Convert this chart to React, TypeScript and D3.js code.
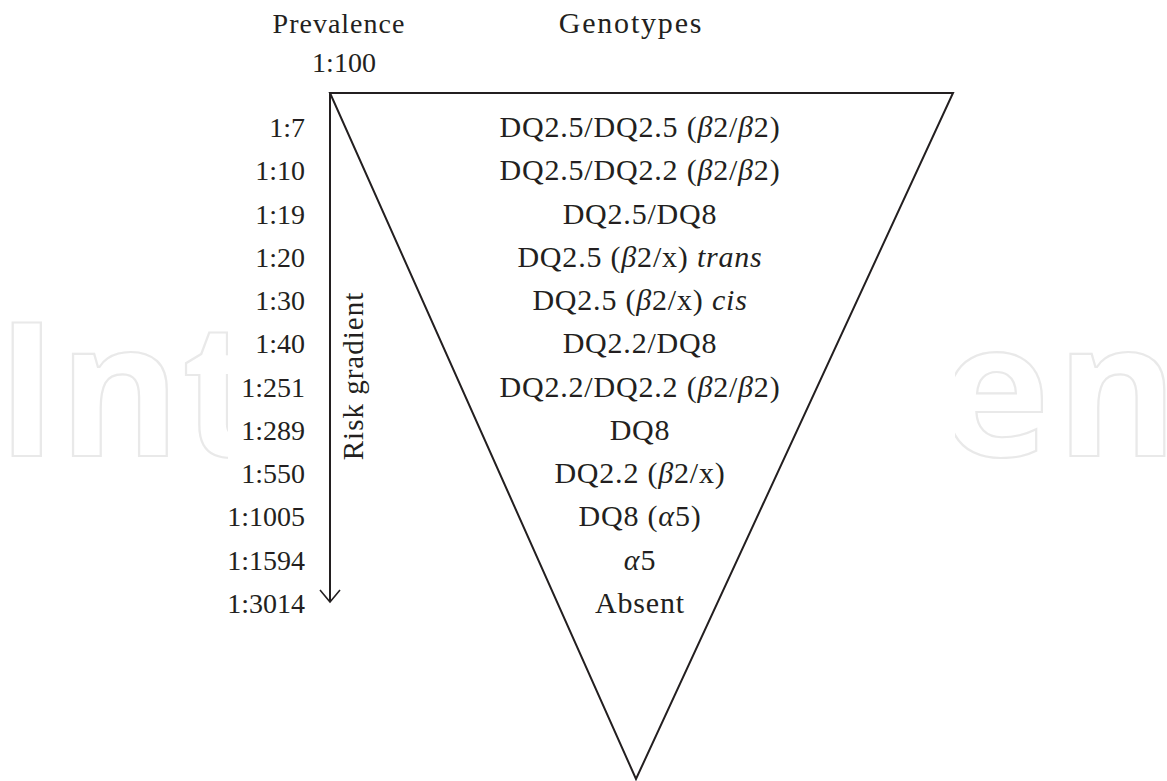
import React from "react";
import * as d3 from "d3";

const prevalence = ["1:7", "1:10", "1:19", "1:20", "1:30", "1:40", "1:251", "1:289", "1:550", "1:1005", "1:1594", "1:3014"];

type Seg = { t: string; i?: boolean };
const genotypes: Seg[][] = [
  [{ t: "DQ2.5/DQ2.5 (" }, { t: "β", i: true }, { t: "2/" }, { t: "β", i: true }, { t: "2)" }],
  [{ t: "DQ2.5/DQ2.2 (" }, { t: "β", i: true }, { t: "2/" }, { t: "β", i: true }, { t: "2)" }],
  [{ t: "DQ2.5/DQ8" }],
  [{ t: "DQ2.5 (" }, { t: "β", i: true }, { t: "2/x) " }, { t: "trans", i: true }],
  [{ t: "DQ2.5 (" }, { t: "β", i: true }, { t: "2/x) " }, { t: "cis", i: true }],
  [{ t: "DQ2.2/DQ8" }],
  [{ t: "DQ2.2/DQ2.2 (" }, { t: "β", i: true }, { t: "2/" }, { t: "β", i: true }, { t: "2)" }],
  [{ t: "DQ8" }],
  [{ t: "DQ2.2 (" }, { t: "β", i: true }, { t: "2/x)" }],
  [{ t: "DQ8 (" }, { t: "α", i: true }, { t: "5)" }],
  [{ t: "α", i: true }, { t: "5" }],
  [{ t: "Absent" }],
];

const topLabel = "1:100";
const titleLeft = "Prevalence";
const titleRight = "Genotypes";
const axisTitle = "Risk gradient";
const watermarkLeft = "Int";
const watermarkRight = "en";

const W = 1167;
const H = 781;
const serif = "'Liberation Serif', 'Times New Roman', serif";
const ink = "#231f20";

export default function App() {
  const y = d3.scaleLinear().domain([0, prevalence.length - 1]).range([137, 613]);
  const tri = { x0: 330, x1: 953, top: 93, ax: 636, ay: 779 };
  const triPath = d3.line()([
    [tri.x0, tri.top],
    [tri.x1, tri.top],
    [tri.ax, tri.ay],
  ]) + "Z";
  const arrowEnd = 602;
  const arrowHead = d3.line()([
    [320, arrowEnd - 12],
    [330, arrowEnd],
    [340, arrowEnd - 12],
  ]);
  const cx = 640;

  return (
    <svg
      width={W}
      height={H}
      viewBox={`0 0 ${W} ${H}`}
      style={{ position: "absolute", left: 0, top: 0, display: "block", background: "#fff" }}
    >
      <defs>
        <clipPath id="wmL"><rect x={0} y={0} width={228} height={H} /></clipPath>
        <clipPath id="wmR"><rect x={955} y={0} width={W - 955} height={H} /></clipPath>
      </defs>
      {/* watermark */}
      <g fill="none" stroke="#e9e9e9" strokeWidth={2.2} fontFamily="'Open Sans', sans-serif" fontWeight={700} fontSize={186}>
        <text clipPath="url(#wmL)" x={-4} y={456} letterSpacing={1}>{watermarkLeft}</text>
        <text clipPath="url(#wmR)" x={940} y={456} letterSpacing={6}>{watermarkRight}</text>
      </g>

      {/* titles */}
      <g fontFamily={serif} fill={ink}>
        <text x={339} y={33} fontSize={28} letterSpacing={1} textAnchor="middle">{titleLeft}</text>
        <text x={344} y={72} fontSize={28} textAnchor="middle">{topLabel}</text>
        <text x={631} y={33} fontSize={30} letterSpacing={1.8} textAnchor="middle">{titleRight}</text>
      </g>

      {/* triangle */}
      <path d={triPath} fill="none" stroke={ink} strokeWidth={2} strokeLinejoin="miter" />

      {/* arrow */}
      <line x1={330} y1={tri.top} x2={330} y2={arrowEnd} stroke={ink} strokeWidth={2} />
      <path d={arrowHead || ""} fill="none" stroke={ink} strokeWidth={1.6} />
      <text
        transform={`translate(363,376) rotate(-90)`}
        fontFamily={serif}
        fontSize={29}
        letterSpacing={1}
        textAnchor="middle"
        fill={ink}
      >
        {axisTitle}
      </text>

      {/* prevalence labels */}
      <g fontFamily={serif} fontSize={28} fill={ink} textAnchor="end">
        {prevalence.map((p, i) => (
          <text key={p} x={305} y={y(i)}>{p}</text>
        ))}
      </g>

      {/* genotypes */}
      <g fontFamily={serif} fontSize={30} fill={ink} textAnchor="middle" letterSpacing={0.8}>
        {genotypes.map((segs, i) => (
          <text key={i} x={cx} y={y(i)}>
            {segs.map((s, j) => (
              <tspan key={j} fontStyle={s.i ? "italic" : "normal"}>{s.t}</tspan>
            ))}
          </text>
        ))}
      </g>
    </svg>
  );
}
